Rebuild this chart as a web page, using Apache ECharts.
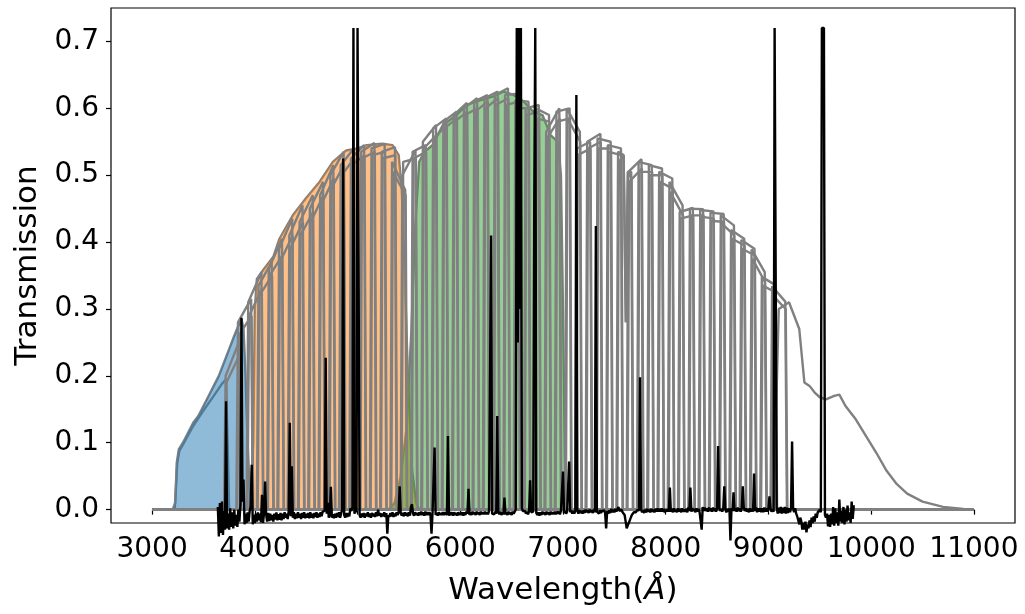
<!DOCTYPE html>
<html>
<head>
<meta charset="utf-8">
<script src="https://cdn.jsdelivr.net/npm/echarts@6/dist/echarts.min.js"></script>
<style>
  html, body { margin: 0; padding: 0; background: #fff; }
  #chart { width: 1025px; height: 614px; }
</style>
</head>
<body>
<div id="chart"></div>
<script>
// ---- Filter curves (wavelength in Angstrom, transmission) ----
const uJPAS = [[3000,0],[3220,0],[3245,0.07],[3265,0.088],[3300,0.097],[3400,0.125],[3500,0.148],
  [3600,0.17],[3680,0.188],[3720,0.195],[3735,0.1],[3750,0],[11000,0]];
const uJAVA = [[3000,0],[3200,0],[3225,0.01],[3240,0.07],[3260,0.09],[3300,0.1],[3350,0.115],[3400,0.13],
  [3450,0.14],[3500,0.155],[3550,0.17],[3600,0.185],[3650,0.2],[3700,0.22],[3750,0.24],[3800,0.26],
  [3840,0.275],[3870,0.285],[3890,0.27],[3910,0.2],[3930,0.1],[3950,0.03],[3970,0],[11000,0]];
const gBand = [[3000,0],[3950,0],[3985,0.1],[4000,0.3],[4020,0.345],[4080,0.358],[4180,0.378],[4240,0.405],
  [4370,0.44],[4500,0.466],[4630,0.49],[4760,0.52],[4890,0.537],[5000,0.54],[5090,0.545],[5240,0.547],
  [5340,0.545],[5400,0.53],[5430,0.48],[5460,0.35],[5490,0.2],[5530,0.06],[5570,0.01],[5600,0],[11000,0]];
const rBand = [[3000,0],[5300,0],[5360,0.01],[5420,0.05],[5475,0.12],[5525,0.27],[5560,0.42],[5600,0.52],
  [5650,0.535],[5730,0.545],[5830,0.575],[5965,0.59],[6060,0.605],[6190,0.612],[6320,0.618],[6420,0.625],
  [6520,0.62],[6620,0.61],[6710,0.595],[6800,0.59],[6880,0.56],[6950,0.55],[6980,0.5],[7000,0.3],
  [7020,0.05],[7040,0],[11000,0]];
const J1007 = [[3000,0],[9050,0],[9100,0.3],[9200,0.31],[9300,0.27],[9350,0.19],[9400,0.185],[9450,0.175],
  [9500,0.168],[9560,0.165],[9640,0.17],[9690,0.172],[9750,0.155],[9850,0.135],[9950,0.11],[10050,0.085],
  [10150,0.058],[10250,0.038],[10350,0.024],[10500,0.012],[10700,0.004],[10900,0.001],[11000,0]];

// Narrow-band filters: central wavelength, transmission at blue and red shoulders
const narrowCenters = [3780,3900,4000,4100,4200,4300,4400,4500,4600,4700,4800,4900,5000,5100,5200,5300,
  5400,5500,5600,5700,5800,5900,6000,6100,6200,6300,6400,6500,6600,6700,6800,6900,7000,7100,7200,7300,
  7400,7500,7600,7700,7800,7900,8000,8100,8200,8300,8400,8500,8600,8700,8800,8900,9000,9100];
// first set of curves
const narrowTopBlue = [0.20,0.28,0.31,0.335,0.36,0.39,0.41,0.43,0.45,0.47,0.50,0.515,0.525,0.535,0.54,0.535,
  0.52,0.50,0.535,0.55,0.57,0.58,0.59,0.60,0.61,0.615,0.62,0.62,0.612,0.60,0.60,0.565,0.595,0.60,0.54,0.55,
  0.555,0.545,0.535,0.505,0.52,0.515,0.505,0.49,0.445,0.45,0.448,0.444,0.44,0.418,0.403,0.389,0.348,0.334];
const narrowTopRed = [0.25,0.315,0.355,0.37,0.405,0.435,0.455,0.47,0.49,0.515,0.535,0.54,0.545,0.548,0.547,0.542,
  0.478,0.537,0.545,0.575,0.585,0.595,0.608,0.615,0.62,0.625,0.63,0.622,0.61,0.605,0.59,0.60,0.60,0.565,0.55,
  0.562,0.55,0.54,0.505,0.524,0.515,0.51,0.495,0.455,0.451,0.449,0.446,0.442,0.425,0.405,0.39,0.355,0.336,0.311];
// second set of curves (slightly lower throughput)
const narrowTopBlue2 = [0.19,0.26,0.29,0.32,0.35,0.37,0.39,0.41,0.43,0.455,0.48,0.50,0.515,0.525,0.53,0.525,
  0.505,0.52,0.525,0.54,0.555,0.57,0.58,0.59,0.595,0.60,0.605,0.605,0.60,0.59,0.585,0.555,0.58,0.585,0.53,0.54,
  0.54,0.535,0.52,0.49,0.505,0.50,0.49,0.475,0.435,0.44,0.438,0.432,0.428,0.405,0.39,0.375,0.335,0.32];
const narrowTopRed2 = [0.23,0.29,0.33,0.35,0.38,0.41,0.43,0.445,0.47,0.495,0.515,0.525,0.53,0.535,0.535,0.53,
  0.47,0.525,0.535,0.56,0.575,0.585,0.595,0.60,0.61,0.615,0.615,0.61,0.60,0.595,0.58,0.585,0.585,0.55,0.54,
  0.55,0.54,0.53,0.495,0.51,0.505,0.50,0.48,0.44,0.44,0.44,0.435,0.43,0.41,0.395,0.38,0.34,0.325,0.30];
// Atmospheric O2 A-band absorption inside the 7600 filter
const telluricDip = [[7590,0.53],[7612,0.28],[7632,0.505]];

// ---- Spectrum: flux sampled every 10 A from 3640 A (one row = 100 A) ----
const specStart = 3640, specStep = 10;
const specFlux = [
  .004,-.040,.010,-.035,.012,-.038,-.002,-.030,.006,-.028,
  -.006,-.030,.002,-.026,-.004,-.028,.000,-.024,-.008,-.026,
  .000,-.018,.008,.015,.012,-.010,-.022,-.006,-.020,-.004,
  -.018,-.002,.005,-.010,-.022,-.008,-.020,-.006,-.018,-.004,
  -.016,-.006,-.019,-.008,-.020,-.005,-.017,-.007,-.018,-.005,
  -.017,-.006,-.016,-.008,-.018,-.006,-.015,-.004,-.016,-.007,
  -.015,-.005,-.016,-.006,-.014,-.004,-.012,-.006,-.014,-.002,
  .000,-.010,.002,-.012,-.004,-.014,-.006,-.013,-.004,-.012,
  -.006,-.014,-.005,-.012,-.004,-.013,-.006,-.012,-.005,-.013,
  -.004,-.012,-.006,-.013,-.005,-.011,-.004,-.012,-.006,-.011,
  -.004,-.010,-.003,-.004,-.002,-.011,-.006,.010,-.012,-.008,
  -.004,-.012,-.007,-.013,-.006,-.012,-.005,-.011,-.004,-.012,
  -.006,.000,-.004,-.008,-.012,-.005,-.011,-.005,-.010,.002,
  -.002,.004,-.004,-.006,.000,-.004,.000,-.002,-.008,-.012,
  -.006,-.011,-.005,-.012,-.006,-.010,-.004,-.011,-.006,-.012,
  -.005,-.010,-.006,-.011,-.004,-.010,.000,-.009,-.005,-.011,
  -.006,-.010,-.004,-.011,-.005,-.036,-.008,-.011,-.005,-.010,
  -.004,-.011,-.006,-.010,-.004,-.008,-.005,-.010,-.004,-.009,
  -.005,-.010,-.004,-.009,-.005,-.010,-.004,-.009,.004,.008,
  -.006,-.009,-.004,-.008,-.005,-.009,-.004,-.008,-.003,-.008,
  -.004,-.009,-.003,-.008,-.004,-.008,-.004,-.008,-.036,-.005,
  -.004,-.006,-.008,-.005,-.009,-.004,-.008,-.005,-.008,-.004,
  -.008,-.004,-.006,-.008,-.005,-.009,-.004,-.008,-.004,-.009,
  -.004,-.008,-.005,-.009,-.004,-.008,-.005,-.008,-.004,-.009,
  -.004,-.008,-.003,-.006,-.004,-.008,-.004,-.008,-.003,-.007,
  -.004,-.008,-.003,-.007,-.004,-.008,-.003,-.007,-.004,-.007,
  -.003,-.007,-.004,-.007,-.002,-.004,-.002,-.006,-.004,-.007,
  -.003,-.006,-.002,-.004,-.007,-.003,-.008,-.004,-.007,-.003,
  -.007,-.004,-.008,-.003,-.007,-.004,-.008,-.003,-.006,-.003,
  .000,.004,.010,.010,.010,.005,.002,-.002,-.004,-.002,
  -.006,-.003,-.007,-.002,-.005,-.004,-.006,-.003,-.002,-.005,
  -.005,-.008,-.004,-.009,-.004,-.008,-.003,-.007,-.004,-.008,
  -.003,-.007,-.004,-.008,-.003,-.007,-.004,-.007,-.003,-.007,
  -.003,-.006,-.003,-.007,-.002,-.004,.002,-.005,-.002,-.006,
  -.003,-.005,-.002,-.004,-.001,-.006,-.002,-.006,-.001,-.005,
  -.002,-.006,-.001,-.005,-.002,-.006,-.001,-.005,.000,-.004,
  -.001,-.005,.000,-.004,-.001,-.005,.000,-.004,-.001,-.003,
  -.002,-.006,-.001,-.005,-.002,-.004,-.001,-.005,-.028,-.002,
  -.006,-.001,-.005,.001,-.004,.000,-.004,.001,-.003,-.002,
  .004,-.002,-.004,.000,-.004,-.002,-.008,-.018,-.028,-.024,
  -.020,-.016,-.012,-.008,-.006,-.004,-.002,-.004,-.001,-.003,
  -.001,-.003,.000,-.004,-.001,-.005,.000,-.004,.001,-.003,
  .000,-.004,.001,-.003,.000,-.004,.001,-.003,.002,-.003,
  .001,-.003,.002,-.003,.001,-.004,.000,-.003,.001,-.003,
  .001,-.003,.001,-.004,.002,-.003,.000,-.004,.002,-.003,
  .001,-.004,.002,-.003,.000,-.003,.001,-.004,.003,-.002,
  .001,-.003,.002,-.002,.001,-.004,.002,-.003,.001,-.004,
  -.002,-.030,.004,-.002,.003,-.002,.002,-.003,.003,-.002,
  .002,-.003,.003,-.002,.002,-.003,.002,-.002,.003,-.002,
  .001,-.003,.002,-.002,.001,-.004,.001,-.003,.002,-.046,
  .002,-.002,.003,-.002,.002,-.003,.003,-.002,.002,-.003,
  .002,-.003,.003,-.002,.002,-.003,.001,-.004,.002,-.003,
  .001,-.003,.002,-.002,.003,-.004,.002,-.003,.002,-.004,
  .002,-.004,.003,-.003,.002,-.003,.001,-.004,.002,-.003,
  .000,-.003,.002,-.004,.004,-.006,.003,-.005,.004,-.006,
  .003,-.005,.004,-.006,.003,-.005,.002,-.004,.003,-.004,
  .002,-.004,.002,-.006,-.010,-.016,-.022,-.012,-.018,-.030,
  -.020,-.030,-.018,-.034,-.022,-.028,-.016,-.026,-.012,-.020,
  -.010,-.018,-.006,-.012,-.004,-.002,.000,-.004,-.006,-.002,
  -.004,-.008,-.012,-.006,-.025,-.008,-.026,-.006,-.022,.004,
  -.024,.002,-.020,-.004,-.024,.006,-.018,-.002,-.020,.004,
  -.022,.000,-.018,.006,-.016,-.004,-.020,.008,-.014,.005,
  .005];
// Emission-line peaks on the same wavelength grid (strong lines saturate at 0.72)
const emissionLines = [[3720,0.162],[3870,0.287],[3890,0.045],[3970,0.067],[4070,0.022],[4100,0.042],
  [4340,0.13],[4360,0.065],[4690,0.227],[4740,0.034],[4860,0.525],[4960,0.72],[5000,0.72],[5010,0.72],
  [5410,0.035],[5750,0.093],[5880,0.11],[6080,0.031],[6300,0.41],[6360,0.14],[6430,0.018],
  [6550,0.72],[6560,0.25],[6570,0.72],[6580,0.3],[6590,0.72],[6680,0.044],[6720,0.454],[6730,0.72],
  [7000,0.057],[7060,0.072],[7130,0.62],[7320,0.424],[7750,0.198],[8040,0.033],[8240,0.033],[8510,0.095],
  [8570,0.035],[8660,0.026],[8750,0.035],[8860,0.054],[9010,0.02],[9060,0.72],[9070,0.72],[9230,0.102],
  [9520,0.72],[9530,0.72],[9540,0.72],[9690,0.015],[9810,0.012]];

// ---- Axis ticks ----
const xTicks = [3000,4000,5000,6000,7000,8000,9000,10000,11000];
const yTicks = [0.0,0.1,0.2,0.3,0.4,0.5,0.6,0.7];

// Narrow filter profile from its tabulated shoulders
function narrowProfile(c, tBlue, tRed, baseHalf, topHalf) {
  const pts = [[3000,0],[c-baseHalf,0],[c-topHalf,tBlue]];
  telluricDip.forEach(p => { if (p[0] > c-topHalf && p[0] < c+topHalf) pts.push(p); });
  pts.push([c+topHalf,tRed],[c+baseHalf,0],[11000,0]);
  return pts;
}
// Spectrum: sampled flux with emission-line samples replacing the continuum
const lineAt = new Map(emissionLines.map(p => [p[0], p[1]]));
const spectrum = specFlux.map((f, k) => {
  const w = specStart + k * specStep;
  return [w, lineAt.has(w) ? lineAt.get(w) : f];
});

const GRAY = '#808080';
const series = [];
function grayLine(data, z) {
  series.push({ type:'line', data, showSymbol:false, silent:true,
    lineStyle:{ color:GRAY, width:2.4 }, z });
}
function band(data, color) {
  series.push({ type:'line', data, showSymbol:false, silent:true,
    lineStyle:{ width:0 }, areaStyle:{ color, opacity:1, origin:0 }, z:3 });
}
[uJPAS, uJAVA, gBand, rBand].forEach(d => grayLine(d, 2));
band(uJAVA, 'rgba(31,119,180,0.5)');
band(gBand, 'rgba(255,127,14,0.5)');
band(rBand, 'rgba(44,160,44,0.5)');
narrowCenters.forEach((c,i) => {
  grayLine(narrowProfile(c + 6, narrowTopBlue2[i], narrowTopRed2[i], 78, 62), 4);
  grayLine(narrowProfile(c, narrowTopBlue[i], narrowTopRed[i], 80, 64), 4);
});
grayLine(J1007, 4);
series.push({ type:'line', data:spectrum, showSymbol:false, silent:true, clip:false,
  lineStyle:{ color:'#000', width:2.4 }, z:6 });

const FONT = 'DejaVu Sans';
const chart = echarts.init(document.getElementById('chart'), null, { renderer:'canvas' });
chart.setOption({
  animation:false,
  backgroundColor:'#fff',
  grid:{ left:111, right:10, top:8, bottom:91, show:true, borderColor:'#000', borderWidth:1.2,
    backgroundColor:'transparent', z:10 },
  xAxis:{
    type:'value', min:2600, max:11400,
    name:'Wavelength({i|Å})', nameLocation:'middle', nameGap:52,
    nameTextStyle:{ fontFamily:FONT, fontSize:31, color:'#000',
      rich:{ i:{ fontFamily:FONT, fontSize:31, fontStyle:'italic', color:'#000' } } },
    axisLine:{ show:false },
    axisTick:{ show:true, inside:false, length:5, customValues:xTicks, lineStyle:{ color:'#000', width:1.2 } },
    axisLabel:{ fontFamily:FONT, fontSize:28, color:'#000', margin:13, customValues:xTicks,
      formatter:v => String(Math.round(v)) },
    splitLine:{ show:false }
  },
  yAxis:{
    type:'value', min:-0.02, max:0.75,
    name:'Transmission', nameLocation:'middle', nameGap:66, nameRotate:90,
    nameTextStyle:{ fontFamily:FONT, fontSize:31, color:'#000' },
    axisLine:{ show:false },
    axisTick:{ show:true, inside:false, length:5, customValues:yTicks, lineStyle:{ color:'#000', width:1.2 } },
    axisLabel:{ fontFamily:FONT, fontSize:28, color:'#000', margin:12, customValues:yTicks,
      formatter:v => v.toFixed(1) },
    splitLine:{ show:false }
  },
  series
});
</script>
</body>
</html>
